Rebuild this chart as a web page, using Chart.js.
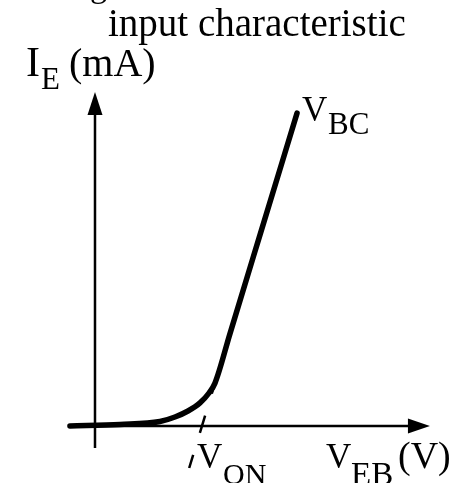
<!DOCTYPE html>
<html>
<head>
<meta charset="utf-8">
<script src="https://cdn.jsdelivr.net/npm/chart.js@4"></script>
<style>
  html, body { margin: 0; padding: 0; background: #fff; }
  #wrap { width: 462px; height: 483px; position: relative; }
</style>
</head>
<body>
<div id="wrap"><canvas id="chart"></canvas></div>
<script>
// ── DATA ───────────────────────────────────────────
// emitter current vs emitter-base voltage (schematic)
const vEB = [-0.167, 0.167, 0.433, 0.533, 0.62, 0.70, 0.76, 0.80, 0.90, 1.10, 1.347];
const iE  = [0, 0.05, 0.15, 0.30, 0.50, 0.77, 1.10, 1.43, 3.08, 6.37, 10.43];
// tangent extension down through V_ON
const tanV = [0.80, 0.628];
const tanI = [1.43, -1.40];
// axis extents (data units)
const xRange = [-0.6333, 2.4467];
const yRange = [-1.9, 14.2];
const xAxisFrom = -0.167, xAxisTo = 2.233;
const yAxisFrom = -0.73, yAxisTo = 11.13;

const curve = vEB.map((v, i) => ({ x: v, y: iE[i] }));
const tangent = tanV.map((v, i) => ({ x: v, y: tanI[i] }));

// text: [text, left, baseline, size]
const labels = [
  ['g', 91, -3, 34],
  ['input characteristic', 108, 36, 39],
  ['I', 27, 76, 42],
  ['E', 41, 89, 31],
  ['(mA)', 70, 76, 40],
  ['V', 302, 121, 35],
  ['BC', 328, 134, 31],
  ['V', 197, 468, 35],
  ['ON', 224, 484, 30],
  ['V', 326, 468, 35],
  ['EB', 351, 485, 33],
  ['(V)', 399, 468, 38]
];
const FONT = '"Liberation Serif", "Times New Roman", Times, serif';

function drawLabel(ctx, [txt, left, base, size]) {
  ctx.save();
  ctx.font = size + 'px ' + FONT;
  ctx.textBaseline = 'alphabetic';
  ctx.textAlign = 'left';
  const m = ctx.measureText(txt);
  ctx.fillStyle = '#000';
  ctx.fillText(txt, left + m.actualBoundingBoxLeft, base);
  ctx.restore();
}

const axesPlugin = {
  id: 'axes',
  beforeDatasetsDraw(chart) {
    const { ctx, scales: { x, y } } = chart;
    const x0 = x.getPixelForValue(0), y0 = y.getPixelForValue(0);
    const xa = x.getPixelForValue(xAxisFrom), xb = x.getPixelForValue(xAxisTo);
    const ya = y.getPixelForValue(yAxisFrom), yb = y.getPixelForValue(yAxisTo);
    ctx.save();
    ctx.strokeStyle = '#000';
    ctx.fillStyle = '#000';
    ctx.lineWidth = 2.5;
    ctx.beginPath();
    ctx.moveTo(xa, y0); ctx.lineTo(xb - 18, y0);
    ctx.moveTo(x0, ya); ctx.lineTo(x0, yb + 18);
    ctx.stroke();
    // arrowheads
    ctx.beginPath();
    ctx.moveTo(xb, y0); ctx.lineTo(xb - 22, y0 - 7.5); ctx.lineTo(xb - 22, y0 + 7.5);
    ctx.closePath(); ctx.fill();
    ctx.beginPath();
    ctx.moveTo(x0, yb); ctx.lineTo(x0 - 7.5, yb + 23); ctx.lineTo(x0 + 7.5, yb + 23);
    ctx.closePath(); ctx.fill();
    ctx.restore();
  },
  afterDraw(chart) {
    labels.forEach(l => drawLabel(chart.ctx, l));
  }
};

function build() {
  new Chart(document.getElementById('chart'), {
    type: 'line',
    data: {
      datasets: [
        { data: curve, borderColor: '#000', borderWidth: 5.5, pointRadius: 0,
          cubicInterpolationMode: 'monotone', borderCapStyle: 'round', borderJoinStyle: 'round' },
        { data: tangent, borderColor: '#000', borderWidth: 2.5, pointRadius: 0,
          borderDash: [18, 23], borderDashOffset: 7 }
      ]
    },
    options: {
      responsive: true, maintainAspectRatio: false, animation: false,
      layout: { padding: 0 },
      plugins: { legend: { display: false }, tooltip: { enabled: false } },
      scales: {
        x: { type: 'linear', display: false, min: xRange[0], max: xRange[1] },
        y: { type: 'linear', display: false, min: yRange[0], max: yRange[1] }
      }
    },
    plugins: [axesPlugin]
  });
}

document.fonts.load('33px "Liberation Serif"').then(build, build);
</script>
</body>
</html>
